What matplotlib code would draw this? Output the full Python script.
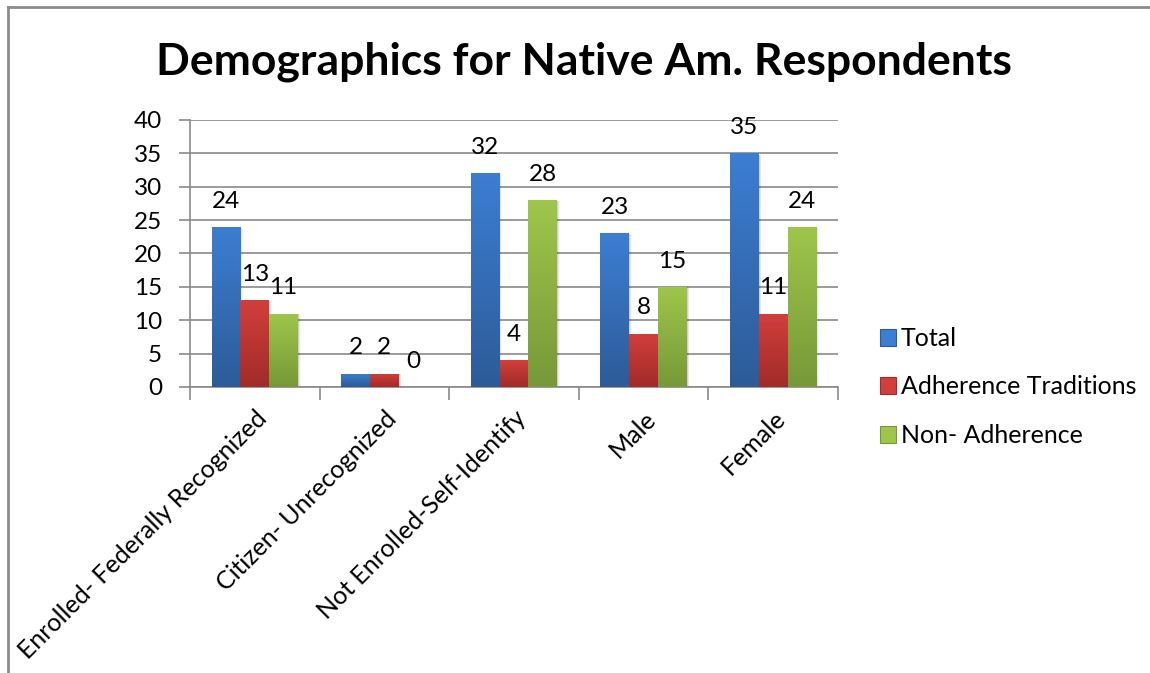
import numpy as np
import matplotlib
matplotlib.use("Agg")
import matplotlib.pyplot as plt
from matplotlib.colors import LinearSegmentedColormap
from matplotlib.patches import Rectangle
from matplotlib.lines import Line2D

plt.rcParams['font.family'] = ['Lato', 'DejaVu Sans']

categories = ["Enrolled- Federally Recognized", "Citizen- Unrecognized",
              "Not Enrolled-Self-Identify", "Male", "Female"]
series_names = ["Total", "Adherence Traditions", "Non- Adherence"]
total = [24, 2, 32, 23, 35]
adherence = [13, 2, 4, 8, 11]
non_adherence = [11, 0, 28, 15, 24]
series_values = [total, adherence, non_adherence]

# (top colour, bottom colour) of each series' vertical gradient
grad_colors = [("#3c7ed2", "#2d5b98"),
               ("#d23f3b", "#a02b29"),
               ("#9fc64b", "#779838")]

fig = plt.figure(figsize=(11.5, 6.73), dpi=100)
ax = fig.add_axes([190 / 1150, 1 - 387 / 673, 648 / 1150, 267 / 673])

n_series = len(series_values)
width = 1 / (n_series + 1.5)
x = np.arange(len(categories))
grad = np.linspace(1, 0, 256).reshape(-1, 1)

for i, (vals, (ctop, cbot)) in enumerate(zip(series_values, grad_colors)):
    pos = x + (i - 1) * width
    cmap = LinearSegmentedColormap.from_list(f"g{i}", [cbot, ctop])
    bars = ax.bar(pos, vals, width=width, color=ctop, zorder=3, linewidth=0)
    for b, v in zip(bars, vals):
        if v <= 0:
            continue
        x0, w = b.get_x(), b.get_width()
        # soft drop shadow to the right of the bar
        for k, a in enumerate([0.10, 0.06, 0.03]):
            ax.add_patch(Rectangle((x0 + w, 0), width * 0.03 * (k + 1), v * 0.995,
                                   facecolor="black", alpha=a, linewidth=0, zorder=2))
        im = ax.imshow(grad, cmap=cmap, extent=(x0, x0 + w, 0, v),
                       aspect="auto", zorder=4, interpolation="bicubic")
        im.set_clip_path(b)
    for p, v in zip(pos, vals):
        ax.annotate(f"{v}", (p, v), xytext=(0, 11), textcoords="offset points",
                    ha="center", va="bottom", fontsize=17.5, color="black", zorder=5)

ax.set_xlim(-0.5, len(categories) - 0.5)
ax.set_ylim(0, 40)
ax.set_yticks(np.arange(0, 41, 5))
ax.yaxis.grid(True, color="#8a8a8a", linewidth=1.2, zorder=0)
ax.set_axisbelow(True)

ax.set_xticks(x)
ax.set_xticklabels(categories, rotation=45, ha="right", va="top",
                   rotation_mode="anchor", fontsize=18)
ax.set_xticks(np.arange(-0.5, len(categories)), minor=True)
ax.tick_params(axis="x", which="major", length=0, pad=14)
ax.tick_params(axis="x", which="minor", length=9, width=1.2, color="#8a8a8a",
               direction="out")
ax.tick_params(axis="y", length=8, width=1.2, color="#8a8a8a", pad=12,
               labelsize=17.5)

for s in ("top", "right"):
    ax.spines[s].set_visible(False)
for s in ("left", "bottom"):
    ax.spines[s].set_color("#8a8a8a")
    ax.spines[s].set_linewidth(1.2)

handles = [Rectangle((0, 0), 1, 1, facecolor=c[0], edgecolor=c[1], linewidth=0.8)
           for c in grad_colors]
fig.legend(handles, series_names, loc="center left",
           bbox_to_anchor=(857 / 1150, 1 - 387 / 673), frameon=False,
           fontsize=18, handlelength=0.65, handleheight=0.65, handletextpad=0.2,
           labelspacing=1.02)

fig.text(584 / 1150, 1 - 62 / 673, "Demographics for Native Am. Respondents",
         ha="center", va="center", fontsize=32, fontweight="bold")

# chart frame (left and top edges)
fig.add_artist(Line2D([8 / 1150, 8 / 1150], [0, 1 - 7 / 673],
                      transform=fig.transFigure, color="#8c8c8c", linewidth=2))
fig.add_artist(Line2D([8 / 1150, 1], [1 - 7 / 673, 1 - 7 / 673],
                      transform=fig.transFigure, color="#8c8c8c", linewidth=2))

fig.savefig("out.png", dpi=100, facecolor="white")
